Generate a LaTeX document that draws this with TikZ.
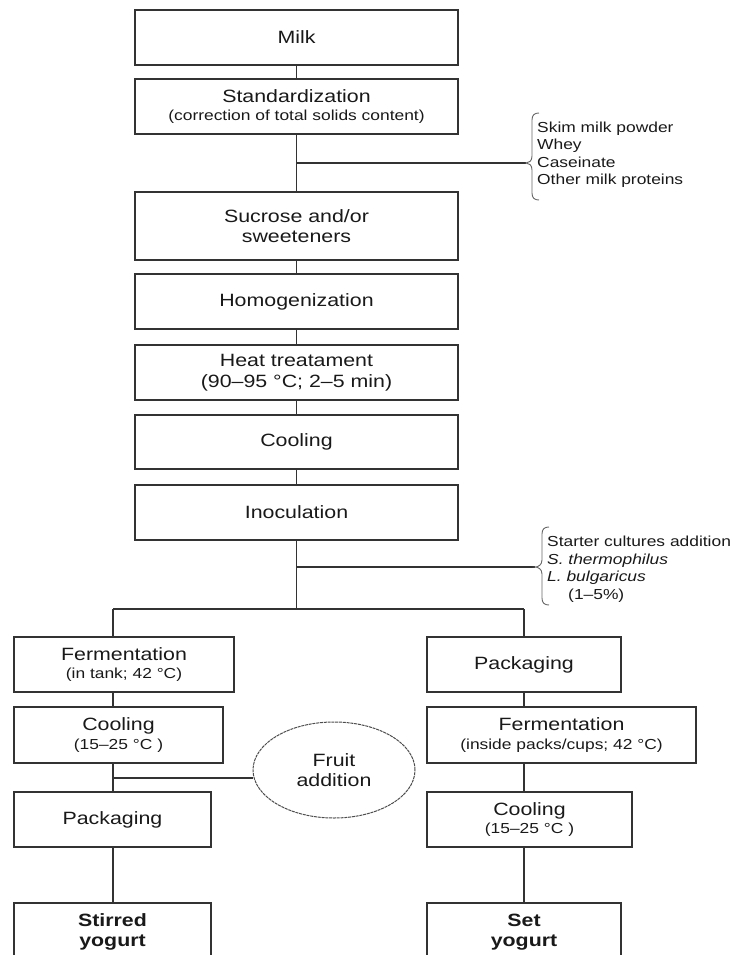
\documentclass[tikz,border=0pt]{standalone}
\usepackage{fontspec}
\setmainfont[FakeStretch=1.2]{Liberation Sans}
\usetikzlibrary{shapes.geometric}
\newcommand\mybig{\fontsize{17.8}{20.5}\selectfont}
\newcommand\mysmall{\fontsize{14.5}{17.5}\selectfont}
\begin{document}
\begin{tikzpicture}[x=1pt,y=-1pt,
  box/.style={draw=black!80, line width=1.2pt, rectangle, inner sep=0pt, align=center, text=black!90, font=\mybig},
  conn/.style={draw=black!80, line width=1.2pt},
  brc/.style={draw=black!60, line width=0.9pt},
  note/.style={align=left, anchor=west, inner sep=0pt, text=black!90, font=\mysmall},
  fruitnode/.style={ellipse, draw=black!70, dash pattern=on 3pt off 0.8pt, line width=1pt, inner sep=0pt, align=center, text=black!90, font=\mybig}]
\useasboundingbox (0,0) rectangle (740,955);
\clip (0,0) rectangle (740,955);
% main column
\node[box, minimum width=323, minimum height=55] (milk) at (296.5,37.5) {Milk};
\node[box, minimum width=323, minimum height=55] (std) at (296.5,106.5) {Standardization\\[-2pt]{\mysmall (correction of total solids content)}};
\node[box, minimum width=323, minimum height=68] (suc) at (296.5,226) {Sucrose and/or\\sweeteners};
\node[box, minimum width=323, minimum height=55] (hom) at (296.5,301.5) {Homogenization};
\node[box, minimum width=323, minimum height=55] (heat) at (296.5,372.5) {Heat treatament\\(90--95 °C; 2--5 min)};
\node[box, minimum width=323, minimum height=54] (cool) at (296.5,442) {Cooling};
\node[box, minimum width=323, minimum height=55] (inoc) at (296.5,512.5) {Inoculation};
% left branch
\node[box, minimum width=220, minimum height=55] (fermL) at (124,664.5) {Fermentation\\[-2pt]{\mysmall (in tank; 42 °C)}};
\node[box, minimum width=209, minimum height=56] (coolL) at (118.5,735) {Cooling\\[-2pt]{\mysmall (15--25 °C )}};
\node[box, minimum width=197, minimum height=55] (packL) at (112.5,819.5) {Packaging};
\node[box, minimum width=197, minimum height=58] (stir) at (112.5,932) {\bfseries Stirred\\\bfseries yogurt};
% right branch
\node[box, minimum width=194, minimum height=55] (packR) at (524,664.5) {Packaging};
\node[box, minimum width=269, minimum height=56] (fermR) at (561.5,735) {Fermentation\\[-2pt]{\mysmall (inside packs/cups; 42 °C)}};
\node[box, minimum width=205, minimum height=55] (coolR) at (529.5,819.5) {Cooling\\[-2pt]{\mysmall (15--25 °C )}};
\node[box, minimum width=194, minimum height=58] (set) at (524,932) {\bfseries Set\\\bfseries yogurt};
% fruit
\node[fruitnode, minimum width=162, minimum height=96] (fruit) at (334,770) {Fruit\\addition};
% notes
\node[note] (n1) at (537,155) {Skim milk powder\\Whey\\Caseinate\\Other milk proteins};
\node[note] (n2) at (547,569) {Starter cultures addition\\\itshape S. thermophilus\\\itshape L. bulgaricus\\\hspace*{21pt}(1--5\%)};
% coordinates
\coordinate (j1) at (296.5,163);
\coordinate (t1) at (526,163);
\coordinate (j2) at (296.5,567);
\coordinate (t2) at (535,567);
\coordinate (sC) at (296.5,609);
\coordinate (sL) at (113,609);
\coordinate (sR) at (524,609);
\coordinate (jf) at (113,778);
% connectors main
\draw[conn] (milk) -- (std);
\draw[conn] (std) -- (suc);
\draw[conn] (suc) -- (hom);
\draw[conn] (hom) -- (heat);
\draw[conn] (heat) -- (cool);
\draw[conn] (cool) -- (inoc);
\draw[conn] (inoc) -- (sC);
\draw[conn] (j1) -- (t1);
\draw[conn] (j2) -- (t2);
\draw[conn] (sL) -- (sR);
% left
\draw[conn] (sL) -- (sL |- fermL.north);
\draw[conn] (fermL.south -| sL) -- (coolL.north -| sL);
\draw[conn] (coolL.south -| sL) -- (packL.north -| sL);
\draw[conn] (packL.south -| sL) -- (stir.north -| sL);
\draw[conn] (jf) -- (jf -| fruit.west);
% right
\draw[conn] (sR) -- (packR.north);
\draw[conn] (packR.south) -- (fermR.north -| packR.south);
\draw[conn] (fermR.south -| packR.south) -- (coolR.north -| packR.south);
\draw[conn] (coolR.south -| packR.south) -- (set.north);
% braces
\draw[brc] (539,113) .. controls (534.5,113) and (532,115) .. (532,120) -- (532,156) .. controls (532,161) and (529,163) .. (526,163) .. controls (529,163) and (532,165) .. (532,170) -- (532,193) .. controls (532,198) and (534.5,200) .. (539,200);
\draw[brc] (549,527) .. controls (544.5,527) and (542,529) .. (542,534) -- (542,560) .. controls (542,565) and (538,567) .. (535,567) .. controls (538,567) and (542,569) .. (542,574) -- (542,598) .. controls (542,603) and (544.5,605) .. (549,605);
\end{tikzpicture}
\end{document}
